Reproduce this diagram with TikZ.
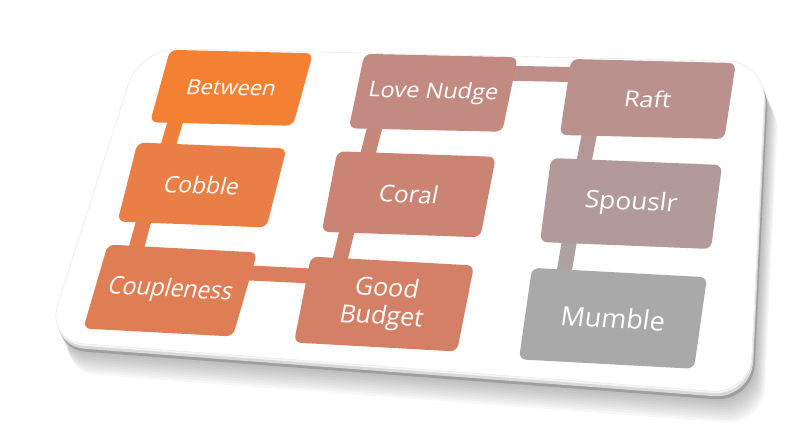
\documentclass[tikz,border=0pt]{standalone}
\usepackage{fontspec}
\setmainfont{Open Sans}
\usetikzlibrary{calc,backgrounds}

\definecolor{cBetween}{HTML}{F48034}
\definecolor{cCobble}{HTML}{E97E47}
\definecolor{cCouple}{HTML}{DF7E55}
\definecolor{cBudget}{HTML}{D48066}
\definecolor{cCoral}{HTML}{CB8473}
\definecolor{cLove}{HTML}{C38A82}
\definecolor{cRaft}{HTML}{BA918C}
\definecolor{cSpouse}{HTML}{B29A9B}
\definecolor{cMumble}{HTML}{A9A9A9}

\tikzset{
  stage/.style={fill=#1, rounded corners=7pt, minimum width=150pt, minimum height=80pt,
    inner sep=0pt, text=white, align=center, font=\fontsize{23}{26}\selectfont},
  link/.style={draw=#1, line width=15pt},
  plate/.style={rounded corners=38pt, insert path={(140,48) -- (766,62) -- (750,394) -- (46,341) -- cycle}},
}

\begin{document}
\begin{tikzpicture}[x=1pt,y=-1pt]
\useasboundingbox (0,0) rectangle (801,447);

% first column
\node[stage=cBetween, cm={0.953,-0.023,0.25,0.906,(0,0)}] (between) at (231.5,87.8) {Between};
\node[stage=cCobble, cm={0.993,-0.04,0.25,0.988,(0,0)}] (cobble) at (202,185) {Cobble};
\node[stage=cCouple, cm={0.997,-0.053,0.306,1.05,(0,0)}] (couple) at (170.3,290.5) {Coupleness};
% second column
\node[stage=cBudget, cm={1.087,-0.06,0.213,1.075,(0,0)}] (budget) at (384,304) {Good\\Budget};
\node[stage=cCoral, cm={1.057,-0.037,0.194,1.006,(0,0)}] (coral) at (408.8,194.3) {Coral};
\node[stage=cLove, cm={1.023,-0.023,0.194,0.931,(0,0)}] (love) at (433.3,92.8) {Love Nudge};
% third column
\node[stage=cRaft, cm={1.097,-0.027,0.144,0.95,(0,0)}] (raft) at (647.8,99) {Raft};
\node[stage=cSpouse, cm={1.14,-0.047,0.138,1.05,(0,0)}] (spouse) at (631,203.5) {Spouslr};
\node[stage=cMumble, cm={1.167,-0.063,0.163,1.144,(0,0)}] (mumble) at (613,318.3) {Mumble};

\begin{scope}[on background layer]
% plate with its shadow and edge
\foreach \k in {1,...,12}
  \fill[black, opacity=0.03, shift={(1.1*\k,2.6*\k)}, plate];
\fill[gray!75, shift={(3,8)}, plate];
\fill[gray!30, shift={(1.5,5)}, plate];
\fill[gray!8, shift={(0.5,2)}, plate];
\fill[white, draw=gray!20, plate];
% links
\draw[link=cBetween!60!cCobble] ($(between.west)!0.18!(between.east)$) -- ($(cobble.west)!0.2!(cobble.east)$);
\draw[link=cCobble!50!cCouple] ($(cobble.west)!0.18!(cobble.east)$) -- ($(couple.west)!0.2!(couple.east)$);
\draw[link=cCouple!50!cBudget] ($(couple.north)!0.25!(couple.south)$) -- ($(budget.north)!0.22!(budget.south)$);
\draw[link=cBudget!50!cCoral] ($(budget.west)!0.17!(budget.east)$) -- ($(coral.west)!0.17!(coral.east)$);
\draw[link=cCoral!50!cLove] ($(coral.west)!0.18!(coral.east)$) -- ($(love.west)!0.18!(love.east)$);
\draw[link=cLove!50!cRaft] ($(love.north)!0.22!(love.south)$) -- ($(raft.north)!0.2!(raft.south)$);
\draw[link=cRaft!50!cSpouse] ($(raft.west)!0.19!(raft.east)$) -- ($(spouse.west)!0.18!(spouse.east)$);
\draw[link=cSpouse!50!cMumble] ($(spouse.west)!0.18!(spouse.east)$) -- ($(mumble.west)!0.18!(mumble.east)$);
\end{scope}
\end{tikzpicture}
\end{document}
